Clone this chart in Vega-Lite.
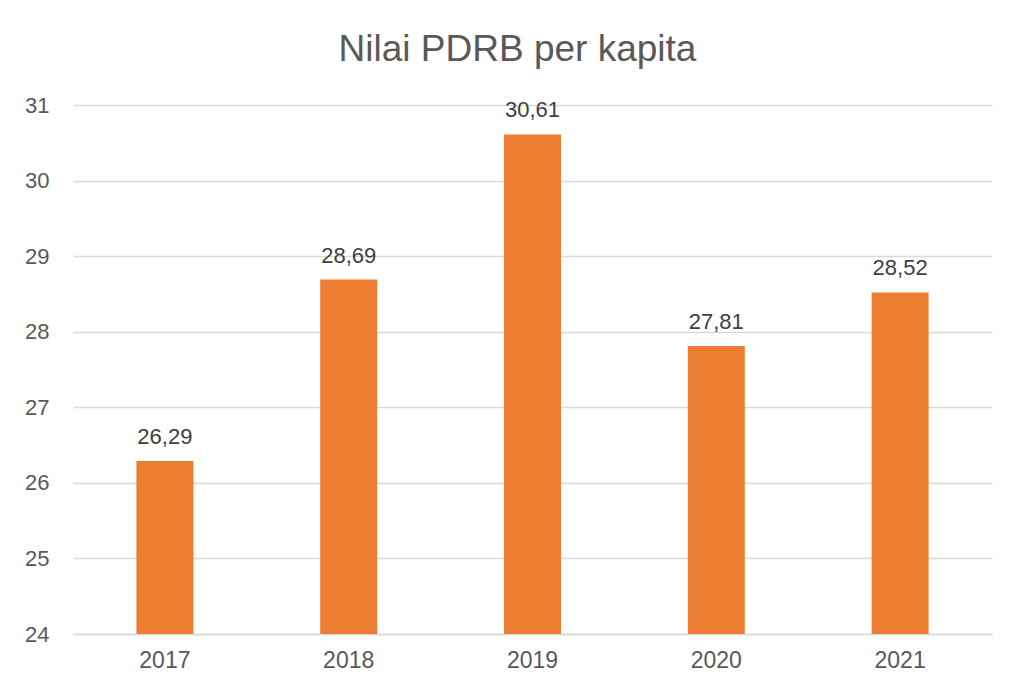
{
  "$schema": "https://vega.github.io/schema/vega-lite/v6.json",
  "width": 919,
  "height": 529,
  "autosize": {"type": "none"},
  "padding": {"left": 73, "top": 105, "right": 17, "bottom": 52},
  "background": "white",
  "config": {
    "view": {"stroke": null},
    "font": "Liberation Sans"
  },
  "title": {
    "text": "Nilai PDRB per kapita",
    "fontSize": 37,
    "font": "Liberation Sans",
    "fontWeight": "normal",
    "color": "#595959",
    "anchor": "middle",
    "frame": "group",
    "dx": -15,
    "baseline": "alphabetic",
    "offset": -4
  },
  "data": {
    "values": [
      {"year": "2017", "value": 26.29, "label": "26,29"},
      {"year": "2018", "value": 28.69, "label": "28,69"},
      {"year": "2019", "value": 30.61, "label": "30,61"},
      {"year": "2020", "value": 27.81, "label": "27,81"},
      {"year": "2021", "value": 28.52, "label": "28,52"}
    ]
  },
  "encoding": {
    "x": {
      "field": "year",
      "type": "nominal",
      "scale": {"paddingInner": 0.69, "paddingOuter": 0.345},
      "axis": {
        "title": null,
        "labelAngle": 0,
        "labelFontSize": 23,
        "labelColor": "#595959",
        "labelPadding": 15,
        "ticks": false,
        "domain": true,
        "domainColor": "#D9D9D9",
        "domainWidth": 1.5,
        "grid": false
      }
    },
    "y": {
      "field": "value",
      "type": "quantitative",
      "scale": {"domain": [24, 31], "zero": false, "nice": false},
      "axis": {
        "title": null,
        "values": [24, 25, 26, 27, 28, 29, 30, 31],
        "labelFontSize": 22,
        "labelColor": "#595959",
        "labelPadding": 24,
        "ticks": false,
        "domain": false,
        "gridColor": "#D9D9D9",
        "gridWidth": 1.3
      }
    }
  },
  "layer": [
    {
      "mark": {"type": "bar", "color": "#ED7D31", "clip": true}
    },
    {
      "mark": {
        "type": "text",
        "baseline": "alphabetic",
        "dy": -17,
        "fontSize": 22,
        "color": "#404040"
      },
      "encoding": {"text": {"field": "label"}}
    }
  ]
}
